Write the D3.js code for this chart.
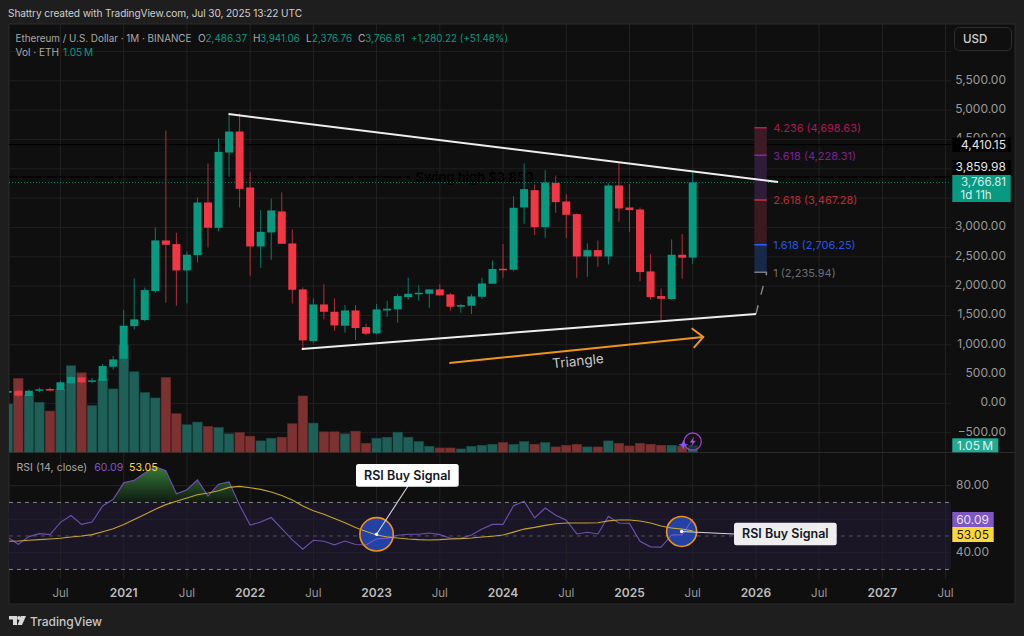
<!DOCTYPE html>
<html><head><meta charset="utf-8">
<script src="https://cdn.jsdelivr.net/npm/d3@7"></script>
<style>html,body{margin:0;padding:0;background:#1e1e1e;overflow:hidden}svg{display:block}text{font-family:Inter,"Noto Sans",sans-serif}</style>
</head><body><div id="chart"></div>
<script>
// month index: 0 = Jan 2020
const firstMonth = 1;
const opens = [182,216,126,216,245,228,342,444,382,382,625,761,1317,1421,1915,2778,2715,2267,2528,3425,2994,4277,4635,3681,2676,2914,3272,2727,1943,1063,1687,1562,1324,1585,1301,1194,1585,1602,1813,1869,1869,1943,1858,1648,1665,1818,2040,2295,2278,3340,3635,3005,3760,3442,3227,2505,2613,2505,3715,3340,3306,2250,1830,1779,2534,2486.37];
const highs = [225,262,235,270,270,385,472,501,433,671,807,1591,2131,1975,2999,4652,2908,2590,3510,4090,4516,4953,4941,3942,3295,3493,3596,2965,1977,1790,2034,1790,1676,1676,1358,1693,1750,1864,2142,2017,1943,2034,1886,1699,1864,2142,2437,2716,3533,4090,3732,3976,3885,3567,3238,2727,2778,3749,4113,3738,3340,2551,1960,2795,2886,3941.06];
const lows = [170,92,120,190,210,215,331,314,343,375,574,700,1262,1400,1886,1716,1665,1704,2403,2658,2931,3863,3340,2176,2312,2448,2721,1704,909,1023,1432,1239,1205,1080,1165,1177,1477,1375,1761,1750,1631,1841,1580,1546,1523,1784,2040,2142,2250,3062,2869,2823,3249,2823,2142,2159,2329,2369,3096,2926,2085,1767,1392,1767,2125,2376.76];
const closes = [211,131,216,240,228,359,450,359,392,637,750,1324,1432,1932,2778,2704,2267,2534,3425,2994,4288,4635,3658,2676,2925,3289,2721,1937,1074,1687,1562,1330,1585,1284,1188,1602,1614,1830,1869,1886,1943,1841,1648,1676,1824,2045,2290,2278,3335,3653,3005,3766,3431,3215,2505,2613,2505,3715,3323,3295,2239,1813,1784,2534,2483,3766.81];
const volumes = [7.2,11,8.5,7.45,6.15,9.35,12.9,11.85,6.95,10.95,9.45,16,12,8.9,8.1,11.15,5.75,4.1,4.5,3.85,3.7,2.75,2.95,2.4,1.7,2.1,2.25,4.25,8.4,4.35,3.05,3.05,2.75,3.15,1.35,2.1,2.25,3,2.25,1.6,0.9,0.65,0.65,0.5,0.9,1.05,1.2,1.45,1.2,1.6,1.2,1.45,0.8,1.05,1.2,0.8,0.8,1.7,1.35,0.95,1.35,1.2,1.05,1.05,0.95,1.05];
const rsi = [49.2,45,49.6,51.4,50.8,58.1,62.2,56.9,58.3,67.9,71.9,81.7,83.3,87.6,91.4,89,75.2,77.6,83.5,73.8,80.9,82.3,68.3,56.5,58.3,61,54.3,47.6,42.1,47.4,46.8,44.7,47,44.9,44.7,48.2,48.6,50.4,51,51,51.8,50.8,48.6,48.6,50.6,54.1,56.9,56.9,68.1,70.7,60.8,66.7,62.4,59.4,51.2,52.2,51.2,61.8,57.7,57.5,46.8,43.5,43.3,50.6,50.6,60.09];
const rsiMA = [46.8,47,47.4,47.8,48.2,48.6,49.4,50,50.8,52.5,54.3,56.9,59.8,62.8,65.95,68.7,70.7,72.7,74.6,75.6,77,79,79.6,78.8,77.8,76.2,74.2,71.5,67.9,65,63,60.4,57.9,55.1,52.7,50.6,49.4,48.8,48.2,47.8,47.6,47.8,48.2,48.4,48.8,49.4,49.8,50.6,52.3,54.1,55.1,56.3,57.3,57.7,57.7,57.7,57.9,59,59.5,59.5,58.9,57.7,55.9,54.7,54.1,53.05];
const gridPrices = [-500,0,500,1000,1500,2000,2500,3000,3500,4000,4500,5000,5500,6000];
const priceLabels = [-500,0,500,1000,1500,2000,2500,3000,4500,5000,5500];
const rsiTicks = [40,60,80];
const rsiLabels = [40,80];
const timeTickMonths = [6,12,18,24,30,36,42,48,54,60,66,72,78,84,90];
const timeTickLabels = ["Jul","2021","Jul","2022","Jul","2023","Jul","2024","Jul","2025","Jul","2026","Jul","2027","Jul"];
const fibLevels = [4.236,3.618,2.618,1.618,1];
const fibPrices = [4698.63,4228.31,3467.28,2706.25,2235.94];
const fibColors = ["#c2185b","#8e24aa","#d32f3f","#2962ff","#787b86"];
const fibBands = ["#3d1a26","#2e1c38","#3b1a1f","#182848"];
const trendTop = [[21.95,4933],[74.1,3774]];
const trendBottom = [[28.9,927],[72,1524]];
const fibLink = [[72,1524],[73.03,2236]];
const arrow = [[42.9,689],[67,1132]];
const arrowHead = [[65.9,1282],[67,1132],[66.1,945]];
const fibMonths = [71.85,73.03];
const hLines = [4410.15,3859.98];
const swingGap = [39.16,52.7];
const signals = [{m:36,r:51,px:16.7},{m:64.95,r:52.7,px:15}];

const W=1024,H=636;
const L=9,R=951,Rf=1015,T=24,paneB=452.5,rsiB=579,B=604;
const x=d3.scaleLinear().domain([12,66]).range([123.7,692.7]);
const y=d3.scaleLinear().domain([0,5000]).range([403.4,110.1]);
const yV=d3.scaleLinear().domain([0,16]).range([452.3,345]);
const yR=d3.scaleLinear().domain([80,40]).range([485.7,552.7]);
const GREEN="#089981",RED="#f23645";

const svg=d3.select("#chart").append("svg").attr("width",W).attr("height",H);
const defs=svg.append("defs");
defs.append("clipPath").attr("id","cp").append("rect").attr("x",L).attr("y",T).attr("width",R-L).attr("height",paneB-T);
defs.append("clipPath").attr("id","cr").append("rect").attr("x",L).attr("y",paneB).attr("width",R-L).attr("height",rsiB-paneB);
defs.append("clipPath").attr("id","ob").append("rect").attr("x",L).attr("y",paneB).attr("width",R-L).attr("height",yR(70)-paneB);
const g1=defs.append("linearGradient").attr("id","obg").attr("gradientUnits","userSpaceOnUse").attr("x1",0).attr("x2",0).attr("y1",yR(91.4)).attr("y2",yR(70));
g1.append("stop").attr("offset",0).attr("stop-color","#367a3a");
g1.append("stop").attr("offset",1).attr("stop-color","#0f1a10");

svg.append("rect").attr("width",W).attr("height",H).attr("fill","#1e1e1e");
svg.append("rect").attr("x",L).attr("y",T).attr("width",Rf-L).attr("height",B-T).attr("fill","#0f0f0f").attr("stroke","#2a2a2a");

// grid
const gg=svg.append("g").attr("stroke","#1f1f1f").attr("stroke-width",1);
gg.selectAll("line.p").data(gridPrices).join("line").attr("x1",L).attr("x2",R).attr("y1",d=>y(d)).attr("y2",d=>y(d));
// rsi band
svg.append("rect").attr("x",L).attr("width",R-L).attr("y",yR(70)).attr("height",yR(30)-yR(70)).attr("fill","#1a1626");
const gr=svg.append("g").attr("stroke","#232230");
gr.selectAll("line").data(rsiTicks).join("line").attr("x1",L).attr("x2",R).attr("y1",d=>yR(d)).attr("y2",d=>yR(d));
const gv=svg.append("g").attr("stroke","#222");
gv.selectAll("line").data(timeTickMonths).join("line").attr("x1",d=>x(d)).attr("x2",d=>x(d)).attr("y1",T).attr("y2",rsiB);
svg.append("line").attr("x1",L).attr("x2",Rf).attr("y1",paneB).attr("y2",paneB).attr("stroke","#2a2a2a");

// volume
const mIdx=i=>firstMonth+i;
const up=i=>closes[i]>=opens[i];
const pane=svg.append("g").attr("clip-path","url(#cp)");
pane.append("g").selectAll("rect").data(volumes).join("rect")
 .attr("x",(d,i)=>x(mIdx(i))-4.7).attr("width",9.4)
 .attr("y",d=>yV(d)).attr("height",d=>yV(0)-yV(d))
 .attr("fill",(d,i)=>up(i)?"#1e5f58":"#7d3131").attr("stroke",(d,i)=>up(i)?"#1a4d48":"#662a2a").attr("stroke-width",.6);

// price lines
hLines.forEach(v=>{pane.append("line").attr("x1",L).attr("x2",R).attr("y1",y(v)).attr("y2",y(v)).attr("stroke","#000").attr("stroke-width",1.2);});
pane.append("rect").attr("x",x(swingGap[0])).attr("width",x(swingGap[1])-x(swingGap[0])).attr("y",y(hLines[1])-2).attr("height",4).attr("fill","#0f0f0f");
pane.append("text").attr("x",415.5).attr("y",y(hLines[1])+5).attr("font-size",13).attr("font-weight",600).attr("fill","#000").text("Swing high $3,859");
pane.append("line").attr("x1",L).attr("x2",R).attr("y1",y(3766.81)).attr("y2",y(3766.81)).attr("stroke",GREEN).attr("stroke-dasharray","1,2").attr("opacity",.8);

// candles
const c=pane.append("g").selectAll("g").data(closes).join("g");
c.append("line").attr("x1",(d,i)=>x(mIdx(i))).attr("x2",(d,i)=>x(mIdx(i))).attr("y1",(d,i)=>y(highs[i])).attr("y2",(d,i)=>y(lows[i])).attr("stroke-width",1).attr("stroke",(d,i)=>up(i)?"#0a7c6a":"#b32d3a");
c.append("rect").attr("x",(d,i)=>x(mIdx(i))-4).attr("width",8).attr("y",(d,i)=>y(Math.max(opens[i],closes[i]))).attr("height",(d,i)=>Math.max(1.5,Math.abs(y(opens[i])-y(closes[i])))).attr("fill",(d,i)=>up(i)?GREEN:RED);

// drawings
const ln=d3.line().x(d=>x(d[0])).y(d=>y(d[1]));
fibBands.forEach((col,i)=>{pane.append("rect").attr("x",x(fibMonths[0])).attr("width",x(fibMonths[1])-x(fibMonths[0])).attr("y",y(fibPrices[i])).attr("height",y(fibPrices[i+1])-y(fibPrices[i])).attr("fill",col);});
fibPrices.forEach((p,i)=>{
 pane.append("line").attr("x1",x(fibMonths[0])).attr("x2",x(fibMonths[1])).attr("y1",y(p)).attr("y2",y(p)).attr("stroke",fibColors[i]).attr("stroke-width",1.5);
 pane.append("text").attr("x",x(fibMonths[1])+6.5).attr("y",y(p)+4.3).attr("font-size",11).attr("fill",fibColors[i]).attr("opacity",.88).text(`${fibLevels[i]} (${d3.format(",.2f")(p)})`);
});
pane.append("path").attr("d",ln(fibLink)).attr("fill","none").attr("stroke","#8a8a8a").attr("stroke-width",1.4).attr("stroke-dasharray","9,11");
pane.append("path").attr("d",ln(trendTop)).attr("fill","none").attr("stroke","#eee").attr("stroke-width",2);
pane.append("path").attr("d",ln(trendBottom)).attr("fill","none").attr("stroke","#eee").attr("stroke-width",2);
pane.append("path").attr("d",ln(arrow)).attr("fill","none").attr("stroke","#f0941e").attr("stroke-width",2);
pane.append("path").attr("d",ln(arrowHead)).attr("fill","none").attr("stroke","#f0941e").attr("stroke-width",2);
pane.append("text").attr("transform","translate(578,362) rotate(-6)").attr("text-anchor","middle").attr("dominant-baseline","middle").attr("font-size",13.5).attr("fill","#c9c9c9").text("Triangle");

// icons
const lastX=x(mIdx(volumes.length-1));
pane.append("circle").attr("cx",lastX).attr("cy",441.6).attr("r",8.6).attr("fill","#1a1020").attr("fill-opacity",.5).attr("stroke","#9c3fc9").attr("stroke-width",1.3);
pane.append("path").attr("transform",`translate(${lastX},441.6)`).attr("d","M1.5,-5 L-3,0.8 L-0.2,0.8 L-1.5,5 L3,-0.8 L0.2,-0.8Z").attr("fill","#b04bd8");
pane.append("path").attr("transform",`translate(${lastX-9.4},444.7)`).attr("d","M0,-5 L1.3,-1.3 L5,0 L1.3,1.3 L0,5 L-1.3,1.3 L-5,0 L-1.3,-1.3Z").attr("fill","#7c5cff");

// rsi
const rp=svg.append("g").attr("clip-path","url(#cr)");
rp.append("g").attr("clip-path","url(#ob)").append("path").datum(rsi).attr("d",d3.area().x((d,i)=>x(mIdx(i))).y0(yR(70)).y1(d=>yR(d))).attr("fill","url(#obg)");
[70,50,30].forEach((v,i)=>{rp.append("line").attr("x1",L).attr("x2",R).attr("y1",yR(v)).attr("y2",yR(v)).attr("stroke",i==1?"#55535f":"#86848c").attr("stroke-width",1).attr("stroke-dasharray","4,4");});
const lr=d3.line().x((d,i)=>x(mIdx(i))).y(d=>yR(d));
rp.append("path").datum(rsi).attr("d",lr).attr("fill","none").attr("stroke","#6e50ad").attr("stroke-width",1.1);
rp.append("path").datum(rsiMA).attr("d",lr).attr("fill","none").attr("stroke","#c5a42a").attr("stroke-width",1.1);
signals.forEach(s=>{rp.append("circle").attr("cx",x(s.m)).attr("cy",yR(s.r)).attr("r",s.px).attr("fill","#2447b0").attr("fill-opacity",.92).attr("stroke","#ef9218").attr("stroke-width",1.6);});
const clipIds=signals.map((s,i)=>{const id="sc"+i;defs.append("clipPath").attr("id",id).append("circle").attr("cx",x(s.m)).attr("cy",yR(s.r)).attr("r",s.px-1);return id;});
clipIds.forEach(id=>{const g=rp.append("g").attr("clip-path",`url(#${id})`);
 g.append("path").datum(rsi).attr("d",lr).attr("fill","none").attr("stroke","#7a5fc0");
 g.append("path").datum(rsiMA).attr("d",lr).attr("fill","none").attr("stroke","#d4b030");});
function callout(s,rx,ry,rw,rh,lx,ly,op){
 rp.append("line").attr("x1",x(s.m)).attr("y1",yR(s.r)).attr("x2",lx).attr("y2",ly).attr("stroke","#d8d8d8").attr("stroke-width",1.1);
 rp.append("circle").attr("cx",x(s.m)).attr("cy",yR(s.r)).attr("r",1.7).attr("fill","#fff");
 rp.append("rect").attr("x",rx).attr("y",ry).attr("width",rw).attr("height",rh).attr("rx",2.5).attr("fill","#fff").attr("opacity",op);
 rp.append("text").attr("x",rx+rw/2).attr("y",ry+rh/2+4.4).attr("text-anchor","middle").attr("font-size",12.5).attr("font-weight",600).attr("fill","#131722").text("RSI Buy Signal");
}
callout(signals[0],356,464,102.7,22.7,408,486,1);
callout(signals[1],734,522.7,102.7,22.6,734,534,.93);

// right axis
const ax=svg.append("g").attr("font-size",12).attr("fill","#9a9a9a").attr("text-anchor","end");
ax.selectAll("text").data(priceLabels).join("text").attr("x",1006).attr("y",d=>y(d)+2.8).text(d=>d3.format(",.2f")(d).replace("-","\u2212"));
const ax2=svg.append("g").attr("font-size",12).attr("fill","#9a9a9a").attr("text-anchor","end");
ax2.selectAll("text").data(rsiLabels).join("text").attr("x",989).attr("y",d=>yR(d)+3.6).text(d=>d.toFixed(2));
function box(xx,yy,w,h,fill,t,col,anchorX){
 svg.append("rect").attr("x",xx).attr("y",yy).attr("width",w).attr("height",h).attr("fill",fill);
 svg.append("text").attr("x",anchorX).attr("y",yy+h/2+4.2).attr("font-size",12).attr("fill",col).attr("text-anchor","end").text(t);
}
box(952.3,137.5,58.4,14.5,"#000","4,410.15","#e6e6e6",1006);
box(952.3,160,58.4,14.4,"#000","3,859.98","#e6e6e6",1006);
svg.append("rect").attr("x",952.3).attr("y",175).attr("width",58.4).attr("height",27).attr("fill",GREEN);
svg.append("text").attr("x",1006).attr("y",186).attr("font-size",11.5).attr("fill","#d7f0ea").attr("text-anchor","end").text("3,766.81");
svg.append("text").attr("x",960.5).attr("y",198.5).attr("font-size",11.5).attr("fill","#d7f0ea").text("1d 11h");
box(952.3,438.3,46,14,"#22ab94","1.05\u2009M","#dff5f0",993);
box(952.3,512,41.4,15,"#7e57c2","60.09","#e8e0f5",989);
box(952.3,527,41.4,15,"#fdd835","53.05","#1a1a1a",989);

// time axis
svg.append("g").selectAll("text").data(timeTickMonths).join("text").attr("x",d=>x(d)).attr("y",597).attr("text-anchor","middle")
 .attr("font-size",(d,i)=>timeTickLabels[i]=="Jul"?11.5:12).attr("font-weight",(d,i)=>timeTickLabels[i]=="Jul"?400:600)
 .attr("fill",(d,i)=>timeTickLabels[i]=="Jul"?"#999":"#bdbdbd").text((d,i)=>timeTickLabels[i]);

// header
const FS=10.1;
svg.append("text").attr("x",8).attr("y",17).attr("font-size",FS).attr("fill","#cfcfcf").attr("textLength",294).attr("lengthAdjust","spacing").text("Shattry created with TradingView.com, Jul 30, 2025 13:22 UTC");
const hdr=[[15.5,"Ethereum / U.S. Dollar \u00b7 1M \u00b7 BINANCE","#a8a8a8",176],[198,"O","#a8a8a8"],[205.5,"2,486.37",GREEN,41.5],[253,"H","#a8a8a8"],[260,"3,941.06",GREEN,40],[306,"L","#a8a8a8"],[312,"2,376.76",GREEN,40],[358,"C","#a8a8a8"],[365,"3,766.81",GREEN,40],[411,"+1,280.22 (+51.48%)",GREEN,97]];
hdr.forEach(([xx,t,col,len])=>{const e=svg.append("text").attr("x",xx).attr("y",41.5).attr("font-size",FS).attr("fill",col).text(t);if(len)e.attr("textLength",len).attr("lengthAdjust","spacingAndGlyphs");});
svg.append("text").attr("x",15.5).attr("y",56).attr("font-size",FS).attr("fill","#a8a8a8").text("Vol \u00b7 ETH");
svg.append("text").attr("x",63).attr("y",56).attr("font-size",FS).attr("fill",GREEN).text("1.05\u2009M");
svg.append("text").attr("x",16.5).attr("y",471).attr("font-size",FS+.5).attr("fill","#a8a8a8").text("RSI (14, close)");
svg.append("text").attr("x",94.3).attr("y",471).attr("font-size",FS+.5).attr("fill","#7e57c2").text("60.09");
svg.append("text").attr("x",129).attr("y",471).attr("font-size",FS+.5).attr("fill","#fdd835").text("53.05");

// USD
svg.append("rect").attr("x",954.5).attr("y",27.5).attr("width",57).attr("height",23).attr("rx",5).attr("fill","#0f0f0f").attr("stroke","#2e2e2e");
svg.append("text").attr("x",963).attr("y",43).attr("font-size",11.5).attr("font-weight",500).attr("fill","#d0d0d0").text("USD");

// footer
const lg=svg.append("g").attr("fill","#d8d8d8");
lg.append("path").attr("d","M9,616 H17 V625 H13 V619.5 H9Z");
lg.append("circle").attr("cx",19).attr("cy",618).attr("r",1.9);
lg.append("path").attr("d","M21,616 H26 L22,625 H17.5Z");
svg.append("text").attr("x",30).attr("y",626).attr("font-size",12).attr("font-weight",500).attr("fill","#c8c8c8").text("TradingView");
</script></body></html>
